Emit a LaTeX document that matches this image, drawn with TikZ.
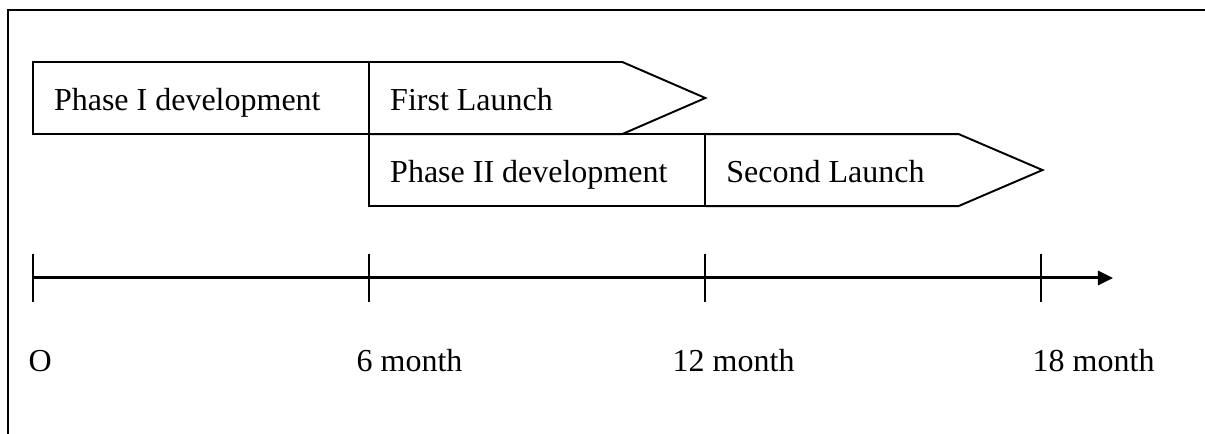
\documentclass[tikz,border=0pt]{standalone}
\usepackage{fontspec}
\setmainfont{Liberation Serif}
\usetikzlibrary{arrows.meta,calc}
\tikzset{
	txt/.style={font=\fontsize{9.1}{11}\selectfont},
	phasebox/.style={txt, draw, line width=0.55pt, anchor=north west, outer sep=0pt,
		text width=2.94cm, inner xsep=0.21cm, minimum height=0.72cm, align=flush left,
		text height=0.72em, text depth=0pt},
	launchbox/.style={txt, anchor=north west, outer sep=0pt,
		text width=2.11cm, inner xsep=0.21cm, minimum height=0.72cm, align=flush left,
		text height=0.72em, text depth=0pt},
	frame/.style={line width=0.6pt},
	axis/.style={line width=0.85pt, -{Triangle[length=0.15cm,width=0.14cm]}},
	tickmark/.style={line width=0.5pt},
	month/.style={txt, anchor=base west, inner sep=0pt}
}
\begin{document}
\begin{tikzpicture}[x=0.01cm, y=-0.01cm]
		%%%%% START %%%%%
		\useasboundingbox (0, 0) rectangle (1205, 434);
		
		\draw[frame] (1205, 10) -- (8, 10) -- (8, 434);
		
		% phases and launches
		\node[phasebox] (phaseone) at (33, 62) {Phase I development};
		\node[launchbox] (launchone) at (phaseone.north east) {First Launch};
		\draw[line width=0.55pt] (launchone.north west) -- (launchone.north east)
			-- ($(launchone.east)+(83, 0)$) -- (launchone.south east) -- (launchone.south west);
		
		\node[phasebox] (phasetwo) at (launchone.south west) {Phase II development};
		\node[launchbox] (launchtwo) at (phasetwo.north east) {Second Launch};
		\draw[line width=0.55pt] (launchtwo.north west) -- (launchtwo.north east)
			-- ($(launchtwo.east)+(84, 0)$) -- (launchtwo.south east) -- (launchtwo.south west);
		
		% time axis
		\coordinate (tzero) at (33, 278);
		\coordinate (tsix) at (369, 278);
		\coordinate (ttwelve) at (705, 278);
		\coordinate (teighteen) at (1041, 278);
		\coordinate (tend) at (1113, 278);
		\draw[axis] (tzero) -- (tend);
		\foreach \t in {tzero, tsix, ttwelve, teighteen}
			\draw[tickmark] ($(\t)+(0, -24)$) -- ($(\t)+(0, 24)$);
		
		\node[month] (mzero) at (28, 372) {O};
		\node[month] (msix) at (356, 372) {6 month};
		\node[month] (mtwelve) at (672, 372) {12 month};
		\node[month] (meighteen) at (1032, 372) {18 month};
		%%%%% END %%%%%
\end{tikzpicture}
\end{document}
